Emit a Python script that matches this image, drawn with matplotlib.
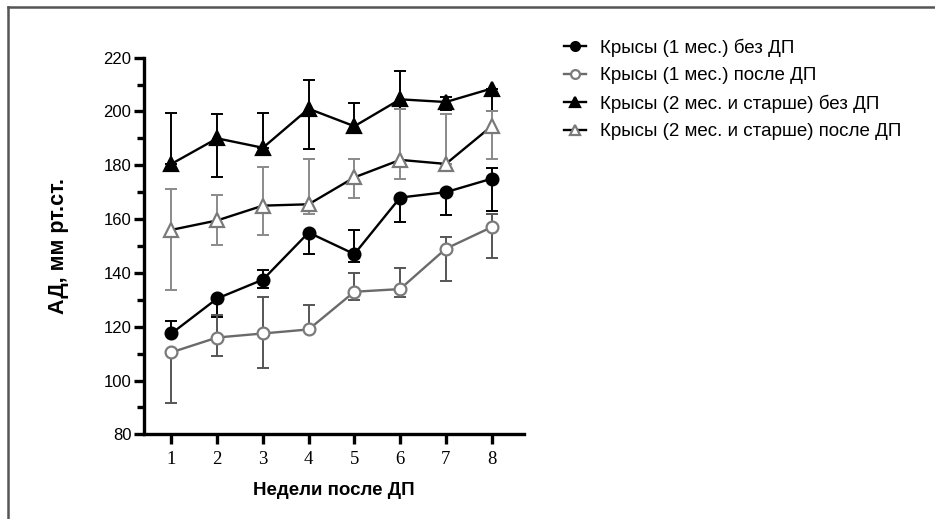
import numpy as np
import matplotlib
matplotlib.use("Agg")
import matplotlib.pyplot as plt
from matplotlib.ticker import MultipleLocator

plt.rcParams['font.family'] = ['Liberation Sans', 'DejaVu Sans']

# -----------------------------
# Data
# -----------------------------
weeks = [1, 2, 3, 4, 5, 6, 7, 8]

labels = [
    "Крысы (1 мес.) без ДП",
    "Крысы (1 мес.) после ДП",
    "Крысы (2 мес. и старше) без ДП",
    "Крысы (2 мес. и старше) после ДП",
]

young_ctrl = [117.5, 130.5, 137.5, 155, 147, 168, 170, 175]
young_ctrl_lo = [0, 7, 3, 8, 3, 9, 8.5, 12]
young_ctrl_hi = [4.5, 0, 3.5, 0, 9, 0, 0, 4]

young_dp = [110.5, 116, 117.5, 119, 133, 134, 149, 157]
young_dp_lo = [19, 7, 13, 0, 3, 3, 12, 11.5]
young_dp_hi = [0, 8.5, 13.5, 9, 7, 8, 4.5, 5]

old_ctrl = [180.5, 190, 186.5, 201, 194.5, 204.5, 203.5, 208.5]
old_ctrl_lo = [0, 14.5, 0, 15, 2.5, 3.5, 3, 8.5]
old_ctrl_hi = [19, 9, 13, 10.5, 8.5, 10.5, 2, 0]

old_dp = [156, 159.5, 165, 165.5, 175.5, 182, 180.5, 194.5]
old_dp_lo = [22.5, 9, 11, 3.5, 7.5, 7, 0, 12]
old_dp_hi = [15, 9.5, 14.5, 17, 7, 19, 18.5, 5.5]

# -----------------------------
# Plot
# -----------------------------
fig = plt.figure(figsize=(9.35, 5.19), dpi=100)
ax = fig.add_axes([0.154, 0.163, 0.406, 0.726])

gray = '#7a7a7a'
series = [
    (young_ctrl, young_ctrl_lo, young_ctrl_hi, 'o', 'black', 'black', 'black', 'black'),
    (young_dp, young_dp_lo, young_dp_hi, 'o', 'white', gray, '#6a6a6a', '#555555'),
    (old_ctrl, old_ctrl_lo, old_ctrl_hi, '^', 'black', 'black', 'black', 'black'),
    (old_dp, old_dp_lo, old_dp_hi, '^', 'white', gray, 'black', '#8a8a8a'),
]

handles = []
for (vals, lo, hi, mk, mfc, mec, lc, ec), lab in zip(series, labels):
    ax.errorbar(weeks, vals, yerr=[lo, hi], fmt='none', ecolor=ec,
                elinewidth=1.4, capsize=4.3, capthick=1.4, zorder=2)
    h, = ax.plot(weeks, vals, color=lc, lw=1.7, marker=mk,
                 markersize=8.5 if mk == 'o' else 9.5,
                 markerfacecolor=mfc, markeredgecolor=mec,
                 markeredgewidth=1.6, label=lab, zorder=3)
    handles.append(h)

ax.set_xlim(0.4, 8.7)
ax.set_ylim(80, 220)
ax.set_xticks(weeks)
ax.yaxis.set_major_locator(MultipleLocator(20))
ax.yaxis.set_minor_locator(MultipleLocator(10))

for side in ['top', 'right']:
    ax.spines[side].set_visible(False)
for side in ['left', 'bottom']:
    ax.spines[side].set_linewidth(2.4)

ax.tick_params(axis='both', which='major', length=7, width=2.4, direction='out')
ax.tick_params(axis='y', which='minor', length=5, width=2.4)
ax.tick_params(axis='y', labelsize=12, pad=2)
ax.tick_params(axis='x', labelsize=13.5, pad=5)
for t in ax.get_xticklabels():
    t.set_family('Liberation Serif')

ax.set_ylabel("АД, мм рт.ст.", fontsize=15.5, fontweight='bold', labelpad=25)
ax.set_xlabel("Недели после ДП", fontsize=13.5, fontweight='bold', labelpad=10)

fig.legend(handles=handles, labels=labels, loc='upper left',
           bbox_to_anchor=(0.585, 0.958), frameon=False, fontsize=13.5,
           handlelength=1.2, handletextpad=0.75, labelspacing=0.55,
           markerscale=0.75)

# thin frame around the figure (top and left edges)
fig.add_artist(plt.Line2D([0.0086, 1.0], [0.9865, 0.9865], color='#555555',
                          lw=1.8, transform=fig.transFigure))
fig.add_artist(plt.Line2D([0.0086, 0.0086], [0.0, 0.9865], color='#555555',
                          lw=1.8, transform=fig.transFigure))

fig.savefig("out.png", dpi=100)
